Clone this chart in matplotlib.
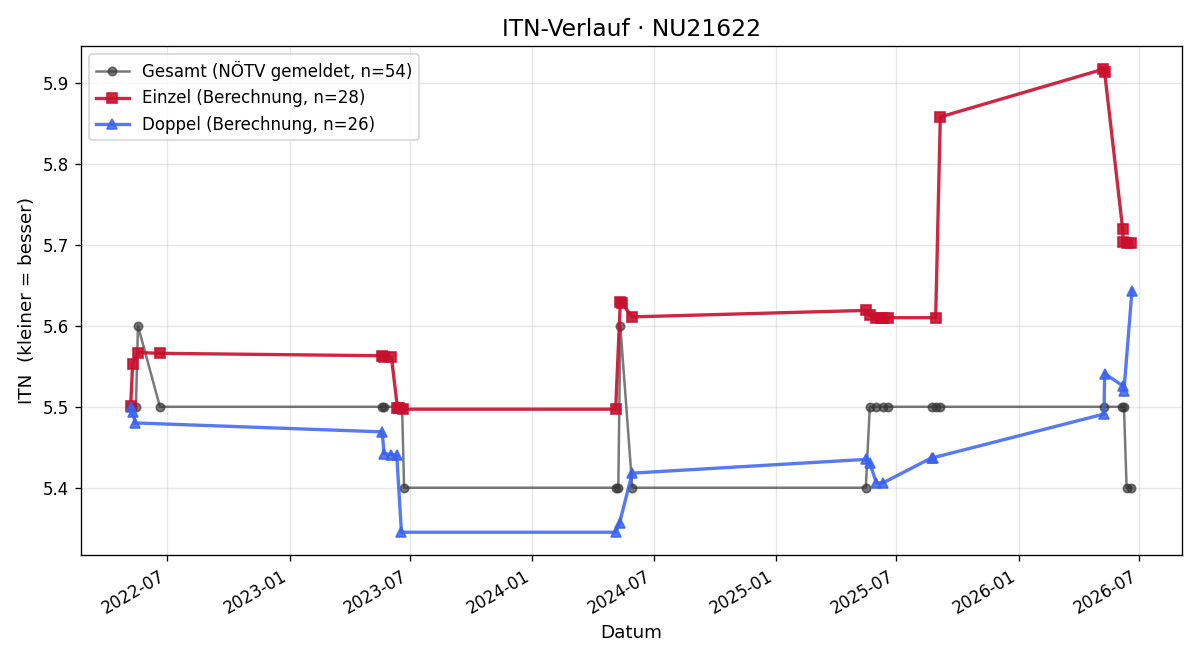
import matplotlib
matplotlib.use("Agg")
import matplotlib.pyplot as plt
import matplotlib.dates as mdates
import pandas as pd

gesamt_dates = ["2022-05-07", "2022-05-09", "2022-05-15", "2022-05-18", "2022-06-20",
                "2023-05-20", "2023-05-23", "2023-06-19", "2023-06-22",
                "2024-05-05", "2024-05-09", "2024-05-12", "2024-05-30",
                "2025-05-16", "2025-05-22", "2025-05-31", "2025-06-11", "2025-06-18",
                "2025-08-23", "2025-08-30", "2025-09-05",
                "2026-05-09", "2026-06-05", "2026-06-08", "2026-06-12", "2026-06-19"]
gesamt_itn = [5.5, 5.5, 5.5, 5.6, 5.5,
              5.5, 5.5, 5.5, 5.4,
              5.4, 5.4, 5.6, 5.4,
              5.4, 5.5, 5.5, 5.5, 5.5,
              5.5, 5.5, 5.5,
              5.5, 5.5, 5.5, 5.4, 5.4]

einzel_dates = ["2022-05-07", "2022-05-10", "2022-05-18", "2022-06-20",
                "2023-05-20", "2023-05-23", "2023-06-03", "2023-06-12", "2023-06-14", "2023-06-21",
                "2024-05-05", "2024-05-12", "2024-05-14", "2024-05-30",
                "2025-05-16", "2025-05-22", "2025-05-31", "2025-06-08", "2025-06-11", "2025-06-18",
                "2025-08-29", "2025-09-05",
                "2026-05-08", "2026-05-10", "2026-06-06", "2026-06-07", "2026-06-12", "2026-06-19"]
einzel_itn = [5.501, 5.553, 5.567, 5.566,
              5.563, 5.562, 5.561, 5.499, 5.498, 5.497,
              5.497, 5.629, 5.628, 5.611,
              5.619, 5.613, 5.610, 5.610, 5.610, 5.610,
              5.610, 5.858,
              5.917, 5.913, 5.720, 5.703, 5.702, 5.702]

doppel_dates = ["2022-05-07", "2022-05-10", "2022-05-14",
                "2023-05-20", "2023-05-23", "2023-06-03", "2023-06-11", "2023-06-18",
                "2024-05-05", "2024-05-11", "2024-05-30",
                "2025-05-16", "2025-05-22", "2025-06-01", "2025-06-11",
                "2025-08-23", "2025-08-25",
                "2026-05-09", "2026-05-10", "2026-06-06", "2026-06-08", "2026-06-20"]
doppel_itn = [5.500, 5.493, 5.480,
              5.469, 5.442, 5.441, 5.440, 5.345,
              5.345, 5.357, 5.418,
              5.435, 5.430, 5.406, 5.406,
              5.437, 5.437,
              5.491, 5.541, 5.526, 5.520, 5.643]

fig, ax = plt.subplots(figsize=(10, 5.5), dpi=120)

ax.plot(pd.to_datetime(gesamt_dates), gesamt_itn, marker="o", ms=5, lw=1.5,
        color="#333333", alpha=0.65, label="Gesamt (NÖTV gemeldet, n=54)")
ax.plot(pd.to_datetime(einzel_dates), einzel_itn, marker="s", ms=6, lw=2,
        color="#c8102e", alpha=0.9, label="Einzel (Berechnung, n=28)")
ax.plot(pd.to_datetime(doppel_dates), doppel_itn, marker="^", ms=6, lw=2,
        color="#3a62f0", alpha=0.85, label="Doppel (Berechnung, n=26)")

ax.xaxis.set_major_locator(mdates.MonthLocator(bymonth=[1, 7]))
ax.xaxis.set_major_formatter(mdates.DateFormatter("%Y-%m"))
ax.set_title("ITN-Verlauf · NU21622", fontsize=14)
ax.set_xlabel("Datum", fontsize=11)
ax.set_ylabel("ITN  (kleiner = besser)", fontsize=11)
ax.grid(True, alpha=0.3)
ax.legend(loc="upper left", fontsize=10)
fig.autofmt_xdate()

fig.tight_layout()
fig.savefig("out.png", dpi=120)
